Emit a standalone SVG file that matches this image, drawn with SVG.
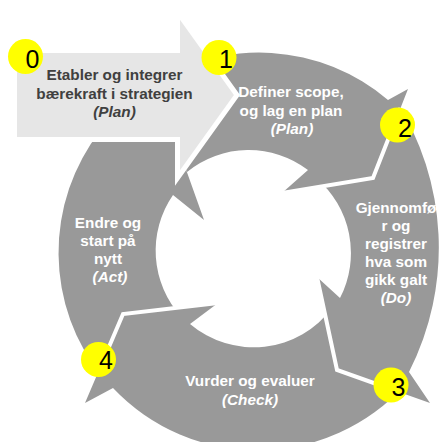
<svg xmlns="http://www.w3.org/2000/svg" width="441" height="442" viewBox="0 0 441 442">
  <style>
    .seg { fill: #999999; }
    .sep { fill: none; stroke: #ffffff; stroke-width: 4; stroke-linejoin: miter; }
    .lbl { font-family: "Liberation Sans", Arial, sans-serif; font-weight: bold; font-size: 15.3px; fill: #ffffff; text-anchor: middle; }
    .lbl0 { font-family: "Liberation Sans", Arial, sans-serif; font-weight: bold; font-size: 15.3px; fill: #404040; text-anchor: middle; }
    .it { font-style: italic; }
    .badge { fill: #ffff00; }
    .num { font-family: "Liberation Sans", Arial, sans-serif; font-size: 25px; fill: #000000; text-anchor: middle; }
  </style>
  <rect width="441" height="442" fill="#ffffff"/>

  <!-- Segment 4: Act (left) -->
  <g id="seg4">
    <path class="seg" d="M103,378 A199,199 0 0 1 100.8,130 L85,98 L173,133 L204,220 L173,195 A98,98 0 0 0 181.3,316.8 Z"/>
  </g>

  <!-- Segment 3: Check (bottom) -->
  <g id="seg3">
    <path class="seg" d="M405,385 A199,199 0 0 1 113,388 L85,403 L123,314 L218,303 L190,324 A98,98 0 0 0 332.3,307.6 Z"/>
    <polyline class="sep" points="98.7,371 123,314 218,303"/>
  </g>

  <!-- Segment 2: Do (right) -->
  <g id="seg2">
    <path class="seg" d="M395.6,100 A274,274 0 0 1 409,372 L430,403 L337,370 L317,277 L340,298 A98,98 0 0 0 316,178 Z"/>
    <polyline class="sep" points="399,392 337,370 317,277"/>
  </g>

  <!-- Segment 1: Plan (top) -->
  <g id="seg1">
    <path class="seg" d="M150,85 A199,199 0 0 1 388,100 L408,89 L373,178 L282,193 L308,170 A98,98 0 0 0 187,172 Z"/>
    <polyline class="sep" points="400.5,108 373,178 282,193"/>
  </g>

  <!-- Step 0: big light arrow -->
  <g id="step0">
    <path d="M14.5,50.5 H177.5 V12 L237,95 L177.5,178 V139.5 H14.5 Z" fill="#e6e6e6" stroke="#ffffff" stroke-width="5"/>
    <text class="lbl0" x="114.5" y="80">Etabler og integrer</text>
    <text class="lbl0" x="114.5" y="98.5">bærekraft i strategien</text>
    <text class="lbl0 it" x="114.5" y="117">(Plan)</text>
  </g>

  <!-- Labels -->
  <g id="label1">
    <text class="lbl" x="291" y="97">Definer scope,</text>
    <text class="lbl" x="291" y="115.5">og lag en plan</text>
    <text class="lbl it" x="292" y="134">(Plan)</text>
  </g>
  <g id="label2">
    <text class="lbl" x="396" y="213">Gjennomfø</text>
    <text class="lbl" x="396" y="231">r og</text>
    <text class="lbl" x="396" y="249">registrer</text>
    <text class="lbl" x="396" y="267">hva som</text>
    <text class="lbl" x="396" y="285">gikk galt</text>
    <text class="lbl it" x="396" y="303">(Do)</text>
  </g>
  <g id="label3">
    <text class="lbl" x="250" y="386">Vurder og evaluer</text>
    <text class="lbl it" x="250" y="404.5">(Check)</text>
  </g>
  <g id="label4">
    <text class="lbl" x="108" y="228">Endre og</text>
    <text class="lbl" x="108" y="246">start på</text>
    <text class="lbl" x="108" y="264">nytt</text>
    <text class="lbl it" x="110" y="282">(Act)</text>
  </g>

  <!-- Number badges -->
  <g id="badge0">
    <circle class="badge" cx="25.5" cy="56.5" r="17.5"/>
    <text class="num" x="32.5" y="68">0</text>
  </g>
  <g id="badge1">
    <circle class="badge" cx="219" cy="57.5" r="17.5"/>
    <text class="num" x="226" y="68">1</text>
  </g>
  <g id="badge2">
    <circle class="badge" cx="397.5" cy="125" r="17.5"/>
    <text class="num" x="405" y="137">2</text>
  </g>
  <g id="badge3">
    <circle class="badge" cx="391" cy="385" r="17.5"/>
    <text class="num" x="398.5" y="396">3</text>
  </g>
  <g id="badge4">
    <circle class="badge" cx="98.5" cy="359.5" r="17.5"/>
    <text class="num" x="106" y="369">4</text>
  </g>
</svg>
